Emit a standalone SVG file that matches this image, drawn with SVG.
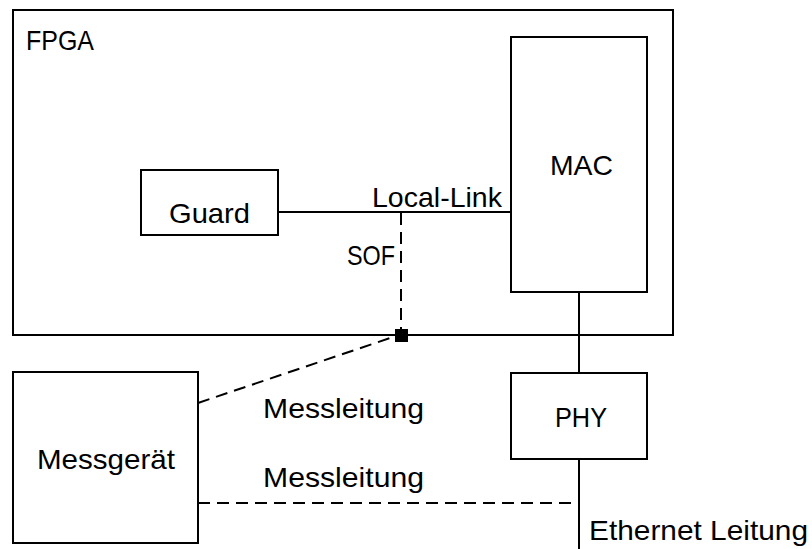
<svg xmlns="http://www.w3.org/2000/svg" width="812" height="549" viewBox="0 0 812 549">
  <style>
    .box { fill: #fff; stroke: #000; stroke-width: 2; }
    .frame { fill: none; stroke: #000; stroke-width: 2; }
    .wire { fill: none; stroke: #000; stroke-width: 2; }
    .dash { fill: none; stroke: #000; stroke-width: 2; stroke-dasharray: 12 7; }
    text { font-family: "Liberation Sans", Arial, sans-serif; font-size: 28px; fill: #000; }
  </style>
  <rect width="812" height="549" fill="#fff"/>

  <!-- FPGA enclosure -->
  <g id="fpga">
    <rect class="frame" x="13" y="10" width="660" height="325"/>
    <text x="26" y="50" textLength="68" lengthAdjust="spacingAndGlyphs">FPGA</text>
  </g>

  <!-- connectors -->
  <g id="connectors">
    <line class="wire" x1="278" y1="212" x2="511" y2="212"/>
    <line class="dash" x1="401" y1="213" x2="401" y2="330"/>
    <line class="dash" x1="198" y1="403" x2="396" y2="336"/>
    <line class="wire" x1="579" y1="292" x2="579" y2="373"/>
    <line class="wire" x1="579" y1="459" x2="579" y2="549"/>
    <line class="dash" x1="198" y1="503" x2="579" y2="503"/>
    <rect x="395" y="329" width="13" height="13" fill="#000"/>
    <text x="372" y="207" textLength="130" lengthAdjust="spacingAndGlyphs">Local-Link</text>
    <text x="347" y="265" textLength="48" lengthAdjust="spacingAndGlyphs">SOF</text>
    <text x="263" y="418" textLength="161" lengthAdjust="spacingAndGlyphs">Messleitung</text>
    <text x="263" y="487" textLength="161" lengthAdjust="spacingAndGlyphs">Messleitung</text>
    <text x="589" y="540" textLength="219" lengthAdjust="spacingAndGlyphs">Ethernet Leitung</text>
  </g>

  <g id="guard">
    <rect class="box" x="141" y="170" width="137" height="65"/>
    <text x="169" y="223" textLength="81" lengthAdjust="spacingAndGlyphs">Guard</text>
  </g>

  <g id="mac">
    <rect class="box" x="511" y="37" width="136" height="255"/>
    <text x="550" y="175" textLength="63" lengthAdjust="spacingAndGlyphs">MAC</text>
  </g>

  <g id="phy">
    <rect class="box" x="511" y="373" width="136" height="86"/>
    <text x="555" y="427" textLength="52" lengthAdjust="spacingAndGlyphs">PHY</text>
  </g>

  <g id="messgeraet">
    <rect class="box" x="13" y="372" width="185" height="171"/>
    <text x="37" y="469" textLength="138" lengthAdjust="spacingAndGlyphs">Messgerät</text>
  </g>
</svg>
